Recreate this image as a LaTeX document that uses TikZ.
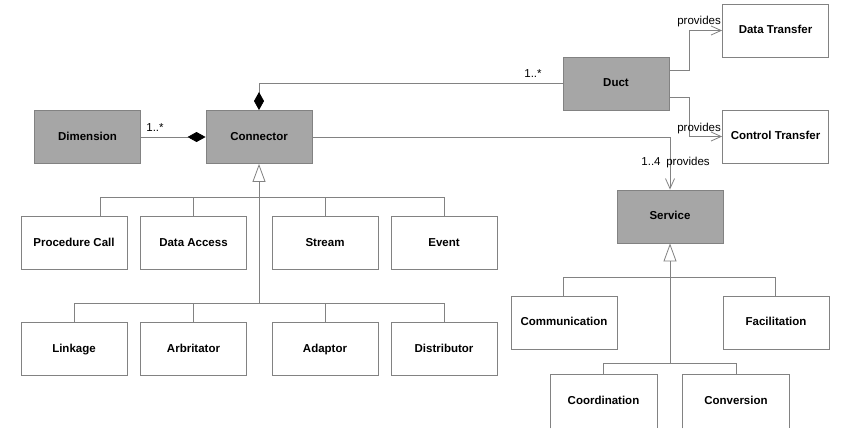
\documentclass[tikz,border=0pt]{standalone}
\usepackage{fontspec}
\setmainfont{Liberation Sans}
\usetikzlibrary{arrows.meta}
\definecolor{boxgray}{RGB}{166,166,166}
\definecolor{linegray}{RGB}{130,130,130}
\begin{document}
\begin{tikzpicture}[x=1pt,y=-1pt,
  box/.style={draw=linegray, line width=0.9pt, minimum width=106pt, minimum height=53pt, inner sep=0pt, text height=8.5pt, text depth=2.5pt, font=\fontsize{11.5}{13}\selectfont\bfseries, fill=white},
  greybox/.style={box, fill=boxgray},
  openbox/.style={box, draw=none, fill=none},
  conn/.style={draw=linegray, line width=0.8pt},
  lbl/.style={font=\fontsize{11.5}{13}\selectfont, inner sep=0pt, text height=8.5pt, text depth=2.5pt},
  gen/.style={conn, -{Triangle[open, length=18pt, width=13pt]}},
  comp/.style={conn, {Diamond[length=18pt, width=10pt, fill=black, color=black]}-},
  nav/.style={conn, -{Straight Barb[length=10pt, width=9pt]}},
]
\useasboundingbox (0,0) rectangle (842,439);
\fill[white] (0,0) rectangle (842,439);

% main nodes
\node[greybox] (dim) at (87.5,137) {Dimension};
\node[greybox] (conn) at (259,137) {Connector};
\node[greybox] (duct) at (616,83.5) {Duct};
\node[box] (dt) at (775.5,30.5) {Data Transfer};
\node[box] (ct) at (775.5,136.5) {Control Transfer};
\node[greybox] (serv) at (670,216.5) {Service};

% connector kinds
\node[box] (pc) at (74,243) {Procedure Call};
\node[box] (da) at (193.5,243) {Data Access};
\node[box] (st) at (325,243) {Stream};
\node[box] (ev) at (444,243) {Event};
\node[box] (lk) at (74,349) {Linkage};
\node[box] (ar) at (193.5,349) {Arbritator};
\node[box] (ad) at (325,349) {Adaptor};
\node[box] (di) at (444,349) {Distributor};

% service kinds
\node[box] (cm) at (564,322.5) {Communication};
\node[box] (fa) at (776,322.5) {Facilitation};
\node[openbox] (co) at (603.5,401.5) {Coordination};
\node[openbox] (cv) at (736,401.5) {Conversion};
\draw[linegray, line width=0.9pt] (co.south west) |- (co.north east) -- (co.south east);
\draw[linegray, line width=0.9pt] (cv.south west) |- (cv.north east) -- (cv.south east);

% compositions
\draw[comp] (conn.west) -- (dim.east);
\draw[comp] (conn.north) |- (duct.west);
\node[lbl] (m1) at (155,128) {1..*};
\node[lbl] (m2) at (533,74) {1..*};

% duct provides
\draw[nav] ([yshift=13.5pt]duct.east) -- ++(20,0) |- (dt.west);
\draw[nav] ([yshift=-13.5pt]duct.east) -- ++(20,0) |- (ct.west);
\node[lbl, anchor=east] (p1) at (721,21) {provides};
\node[lbl, anchor=east] (p2) at (721,128) {provides};

% connector provides service
\draw[nav] (conn.east) -| (serv.north);
\node[lbl] (m3) at (651,162) {1..4};
\node[lbl] (p3) at (688,162) {provides};

% connector generalization
\coordinate (cj1) at (259,197);
\coordinate (cj2) at (259,303);
\draw[gen] (cj2) -- (conn.south);
\draw[conn] (cj1) -| ([xshift=26pt]pc.north);
\draw[conn] (cj1) -| (da.north);
\draw[conn] (cj1) -| (st.north);
\draw[conn] (cj1) -| (ev.north);
\draw[conn] (cj2) -| (lk.north);
\draw[conn] (cj2) -| (ar.north);
\draw[conn] (cj2) -| (ad.north);
\draw[conn] (cj2) -| (di.north);

% service generalization
\coordinate (sj1) at (670,277);
\coordinate (sj2) at (670,363);
\draw[gen] (sj2) -- (serv.south);
\draw[conn] (sj1) -| ([xshift=-1pt]cm.north);
\draw[conn] (sj1) -| ([xshift=-1pt]fa.north);
\draw[conn] (sj2) -| ([xshift=-0.5pt]co.north);
\draw[conn] (sj2) -| (cv.north);
\end{tikzpicture}
\end{document}
